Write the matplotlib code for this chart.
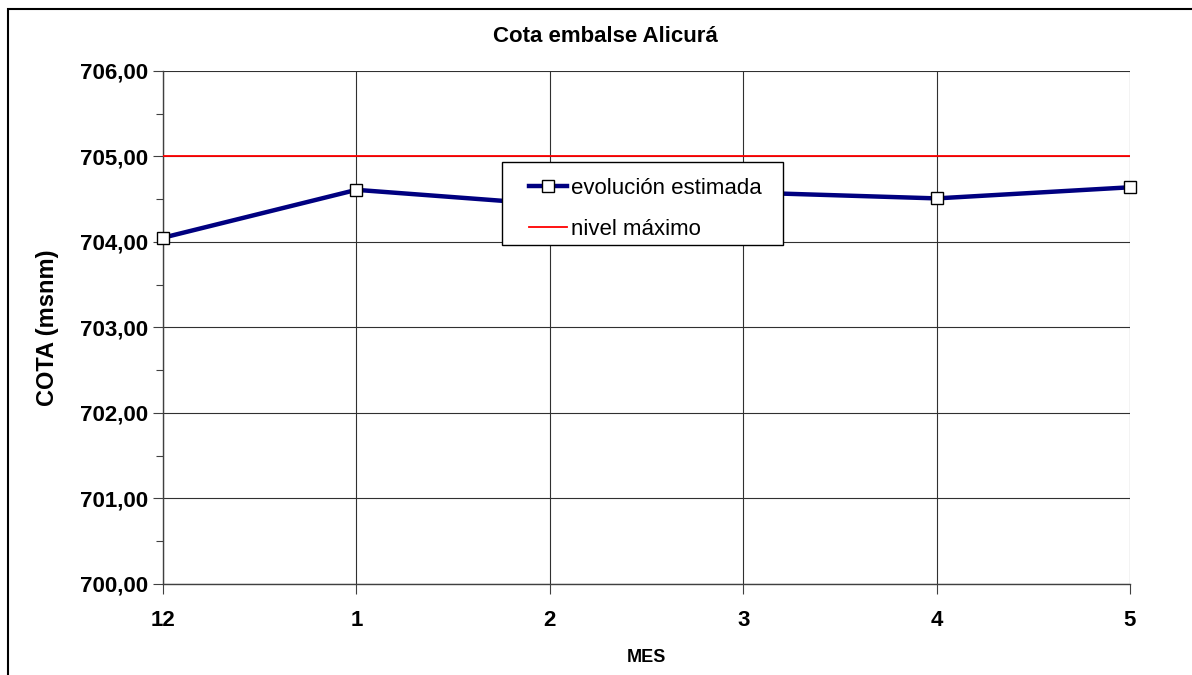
import matplotlib
matplotlib.use("Agg")
import matplotlib.pyplot as plt
from matplotlib.patches import Rectangle
from matplotlib.ticker import FuncFormatter, MultipleLocator

# data
meses = ["12", "1", "2", "3", "4", "5"]
cota_estimada = [704.05, 704.61, 704.44, 704.58, 704.51, 704.64]
nivel_maximo = 705.00

plt.rcParams["font.family"] = ["Liberation Sans", "DejaVu Sans"]

W, H = 1192, 675
fig = plt.figure(figsize=(W / 100, H / 100), dpi=100)
# plot area in pixels: x 163..1130, y 71..584
px0, px1, py0, py1 = 163, 1130, 71, 584
ax = fig.add_axes([px0 / W, 1 - py1 / H, (px1 - px0) / W, (py1 - py0) / H])


def ax_xy(px, py):
    """pixel position -> axes fraction"""
    return (px - px0) / (px1 - px0), (py1 - py) / (py1 - py0)


x = list(range(len(meses)))
ax.axhline(nivel_maximo, color="#ff0000", lw=1.3, label="nivel máximo", zorder=3)
ax.plot(x, cota_estimada, color="#000080", lw=3.2, marker="s", ms=9,
        mfc="white", mec="black", mew=1.0, label="evolución estimada",
        zorder=4, clip_on=False)

ax.set_xlim(0, len(meses) - 1)
ax.set_ylim(700, 706)
ax.set_xticks(x)
ax.set_xticklabels(meses)
ax.yaxis.set_major_locator(MultipleLocator(1))
ax.yaxis.set_minor_locator(MultipleLocator(0.5))
ax.yaxis.set_major_formatter(FuncFormatter(lambda v, _: f"{v:.2f}".replace(".", ",")))

ax.grid(True, which="major", color="#303030", lw=0.8, zorder=1)
for side in ("top", "right"):
    ax.spines[side].set_visible(False)
for side in ("left", "bottom"):
    ax.spines[side].set_color("#404040")
    ax.spines[side].set_linewidth(1.0)

ax.tick_params(axis="both", which="major", direction="out", length=7, width=0.8,
               labelsize=16, color="#404040")
ax.tick_params(axis="y", which="minor", direction="out", length=5, width=0.8, color="#404040")
for lab in ax.get_xticklabels() + ax.get_yticklabels():
    lab.set_fontweight("bold")
ax.tick_params(axis="x", pad=12)
ax.tick_params(axis="y", pad=4)

fig.text(605 / W, 1 - 37 / H, "Cota embalse Alicurá", fontsize=16,
         fontweight="bold", ha="center", va="center")
ax.set_xlabel("MES", fontsize=13, fontweight="bold", labelpad=13)
ax.set_ylabel("COTA (msnm)", fontsize=17, fontweight="bold", labelpad=15)

# legend box drawn separately so its padding matches the reference
bx, by = ax_xy(502, 245)
bw, bh = 281 / (px1 - px0), 83 / (py1 - py0)
ax.add_patch(Rectangle((bx, by), bw, bh, transform=ax.transAxes, facecolor="white",
                       edgecolor="black", lw=1.0, zorder=5, clip_on=False))

handles, labels = ax.get_legend_handles_labels()
leg = ax.legend(handles[::-1], labels[::-1], loc="upper left",
                bbox_to_anchor=ax_xy(529, 178), borderaxespad=0, borderpad=0,
                fontsize=16, frameon=False, handlelength=1.73,
                labelspacing=0.88, handletextpad=0.14)
leg.set_zorder(6)

# outer chart frame (only top/left edges visible in the reference)
fig.patches.append(Rectangle((8 / W, -0.1), 2, 1 - 9 / H + 0.1,
                             transform=fig.transFigure, fill=False,
                             edgecolor="black", lw=1.5))

fig.savefig("out.png", dpi=100)
